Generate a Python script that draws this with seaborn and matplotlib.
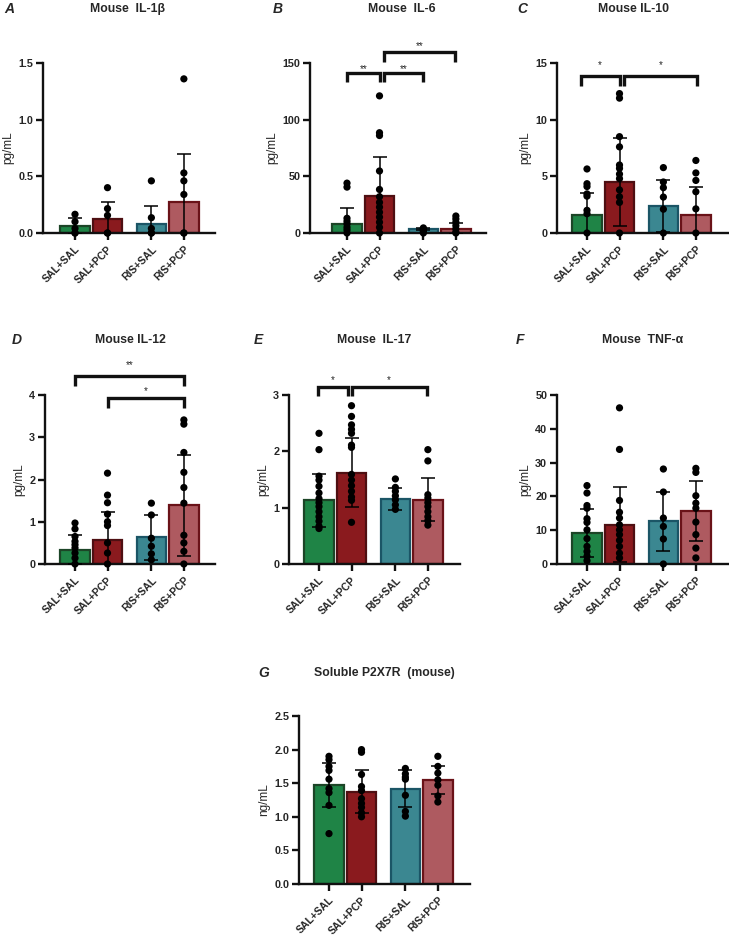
import numpy as np
import pandas as pd
import matplotlib
matplotlib.use("Agg")
import matplotlib.pyplot as plt
import seaborn as sns

sns.set_theme(style="ticks")
plt.rcParams['font.family'] = ['Liberation Sans', 'DejaVu Sans']

# ---------------- data ----------------
groups = ["SAL+SAL", "SAL+PCP", "RIS+SAL", "RIS+PCP"]
positions = [0.0, 1.0, 2.35, 3.35]
fill_colors = ["#1f8446", "#8a1a1e", "#3b8791", "#ae5a60"]
edge_colors = ["#1c4527", "#4e0f12", "#1b5566", "#6a1218"]

# A: IL-1beta
a_mean = [0.06, 0.12, 0.083, 0.27]
a_sd = [0.073, 0.157, 0.157, 0.424]
a_pts = [[0.165, 0.10, 0.04, 0, 0],
         [0.40, 0.215, 0.155, 0, 0],
         [0.46, 0.135, 0.04, 0, 0],
         [1.36, 0.53, 0.46, 0.34, 0, 0]]
a_yticks = [0.0, 0.5, 1.0, 1.5]
a_ticklabels = ["0.0", "0.5", "1.0", "1.5"]

# B: IL-6
b_mean = [8.0, 32.5, 3.5, 3.8]
b_sd = [13.9, 35.0, 0.6, 4.8]
b_pts = [[44, 40.5, 13, 10.4, 8, 5, 2.7, 0],
         [121, 88.5, 86, 54.7, 38.4, 32, 27, 22.8, 18.3, 14, 9.5, 5, 0],
         [4.5, 3.5, 2.0, 1.0, 0],
         [15, 12.4, 9.5, 6.5, 3.5, 0.6, 0]]
b_yticks = [0, 50, 100, 150]
b_ticklabels = ["0", "50", "100", "150"]
b_brackets = [(0.0, 1.0, 133, 141, 145, "**"),
              (1.15, 2.35, 133, 141, 145, "**"),
              (1.15, 3.32, 151, 160, 165, "**")]

# C: IL-10
c_mean = [1.6, 4.5, 2.4, 1.63]
c_sd = [1.92, 3.85, 2.3, 2.45]
c_pts = [[5.65, 4.35, 4.1, 3.45, 3.25, 2.0, 1.7, 0],
         [12.3, 11.9, 8.5, 7.6, 6.0, 5.7, 5.2, 4.8, 3.8, 3.2, 2.7, 0],
         [5.77, 4.5, 4.0, 3.17, 2.1, 0],
         [6.4, 5.3, 4.64, 3.64, 2.13, 0]]
c_yticks = [0, 5, 10, 15]
c_ticklabels = ["0", "5", "10", "15"]
c_brackets = [(-0.2, 1.0, 13.0, 13.88, 14.8, "*"),
              (1.15, 3.37, 13.0, 13.88, 14.8, "*")]

# D: IL-12
d_mean = [0.34, 0.56, 0.63, 1.39]
d_sd = [0.35, 0.68, 0.54, 1.2]
d_pts = [[0.97, 0.83, 0.65, 0.535, 0.457, 0.38, 0.26, 0.14, 0],
         [2.15, 1.63, 1.45, 1.18, 1.0, 0.91, 0.5, 0.26, 0],
         [1.44, 1.16, 0.61, 0.42, 0.24, 0.1],
         [3.41, 3.31, 2.64, 2.17, 1.81, 1.44, 0.68, 0.5, 0.3, 0]]
d_yticks = [0, 1, 2, 3, 4]
d_ticklabels = ["0", "1", "2", "3", "4"]
d_brackets = [(0.0, 3.35, 4.21, 4.45, 4.72, "**"),
              (1.0, 3.35, 3.69, 3.92, 4.1, "*")]

# E: IL-17
e_mean = [1.13, 1.62, 1.16, 1.14]
e_sd = [0.47, 0.61, 0.195, 0.38]
e_pts = [[2.32, 2.03, 1.56, 1.49, 1.38, 1.26, 1.16, 1.09, 1.02, 0.93, 0.84, 0.76, 0.67, 0.63],
         [2.81, 2.62, 2.47, 2.39, 2.32, 2.11, 2.07, 1.59, 1.49, 1.39, 1.29, 1.19, 1.13, 0.74],
         [1.51, 1.36, 1.29, 1.21, 1.14, 1.05, 0.97],
         [2.03, 1.83, 1.23, 1.17, 1.09, 1.02, 0.93, 0.84, 0.77, 0.69]]
e_yticks = [0, 1, 2, 3]
e_ticklabels = ["0", "1", "2", "3"]
e_brackets = [(-0.04, 0.88, 2.98, 3.15, 3.26, "*"),
              (1.0, 3.31, 2.98, 3.15, 3.26, "*")]

# F: TNF-alpha
f_mean = [9.05, 11.6, 12.6, 15.6]
f_sd = [7.1, 11.1, 8.8, 8.9]
f_pts = [[23.2, 21, 17.3, 16.5, 13.4, 12.3, 10.1, 7.5, 5.2, 3.7, 2.3, 1.0],
         [46.2, 33.9, 18.8, 15.3, 13.6, 11.6, 10.1, 8.7, 7.0, 5.2, 3.2, 1.8],
         [28.1, 21.3, 13.6, 11.1, 7.4, 0],
         [28.3, 27.1, 20.2, 18.0, 16.5, 12.4, 8.7, 4.7, 1.8]]
f_yticks = [0, 10, 20, 30, 40, 50]
f_ticklabels = ["0", "10", "20", "30", "40", "50"]

# G: soluble P2X7R
g_mean = [1.47, 1.37, 1.42, 1.55]
g_sd = [0.33, 0.32, 0.28, 0.21]
g_pts = [[1.90, 1.85, 1.75, 1.69, 1.56, 1.42, 1.36, 1.17, 0.75],
         [2.0, 1.96, 1.63, 1.45, 1.39, 1.27, 1.20, 1.14, 1.06, 1.0],
         [1.72, 1.64, 1.59, 1.56, 1.32, 1.08, 1.01],
         [1.90, 1.75, 1.65, 1.55, 1.47, 1.31, 1.22]]
g_yticks = [0.0, 0.5, 1.0, 1.5, 2.0, 2.5]
g_ticklabels = ["0.0", "0.5", "1.0", "1.5", "2.0", "2.5"]

# ---------------- layout (pixels) ----------------
W, H = 729, 940
fig = plt.figure(figsize=(W / 100, H / 100), dpi=100)
UNIT = 32.5  # px per x-unit


def make_axes(spine_x, right_x, top_y, zero_y, bar0_x):
    ax = fig.add_axes([spine_x / W, 1 - zero_y / H,
                       (right_x - spine_x) / W, (zero_y - top_y) / H])
    xlim = ((spine_x - bar0_x) / UNIT, (right_x - bar0_x) / UNIT)
    return ax, xlim


def panel(ax, xlim, means, sds, pts, yticks, yticklabels, ylabel, brackets=()):
    bar_df = pd.DataFrame({"pos": positions, "mean": means, "group": groups})
    sns.barplot(data=bar_df, x="pos", y="mean", hue="group", hue_order=groups,
                palette=fill_colors, native_scale=True, width=0.9,
                errorbar=None, legend=False, ax=ax, zorder=1)
    for p in ax.patches:
        cx = p.get_x() + p.get_width() / 2
        i = int(np.argmin([abs(cx - q) for q in positions]))
        p.set_facecolor(fill_colors[i])
        p.set_edgecolor(edge_colors[i])
        p.set_linewidth(1.6)
    ax.errorbar(positions, means, yerr=sds, fmt="none", ecolor="black",
                elinewidth=1.1, capsize=5.2, capthick=1.1, zorder=3)
    xs, ys = [], []
    for pos, vals in zip(positions, pts):
        xs += [pos] * len(vals)
        ys += list(vals)
    pt_df = pd.DataFrame({"x": xs, "y": ys})
    sns.scatterplot(data=pt_df, x="x", y="y", color="black", s=27,
                    edgecolor="none", ax=ax, zorder=4, clip_on=False, legend=False)
    ax.set_xlim(*xlim)
    ax.set_ylim(yticks[0], yticks[-1])
    ax.set_yticks(yticks)
    ax.set_yticklabels(yticklabels, fontsize=7.8, fontweight="bold")
    ax.set_xticks(positions)
    ax.set_xticklabels(groups, rotation=45, ha="right", rotation_mode="anchor",
                       fontsize=7.5, fontweight="bold")
    ax.set_xlabel("")
    ax.set_ylabel(ylabel, fontsize=8.5, labelpad=3)
    for s in ["top", "right"]:
        ax.spines[s].set_visible(False)
    for s in ["left", "bottom"]:
        ax.spines[s].set_linewidth(1.7)
        ax.spines[s].set_color("#111111")
    ax.tick_params(axis="both", direction="out", length=5, width=1.7,
                   color="#111111", pad=2)
    ax.tick_params(axis="x", pad=3)
    ax.patch.set_alpha(0)
    for x1, x2, yb, yt, ys_, txt in brackets:
        ax.plot([x1, x1, x2, x2], [yb, yt, yt, yb], color="#111111", lw=2.4,
                clip_on=False, solid_joinstyle="miter", solid_capstyle="butt")
        ax.text((x1 + x2) / 2, ys_, txt, ha="center", va="center",
                fontsize=7, clip_on=False)


def label(x, y, title, letter, letter_x):
    fig.text(x / W, 1 - y / H, title, ha="center", va="center",
             fontsize=8.8, fontweight="bold")
    fig.text(letter_x / W, 1 - y / H, letter, ha="left", va="center",
             fontsize=10, fontweight="bold", fontstyle="italic")


axA, xlA = make_axes(43, 215, 63, 233, 75)
panel(axA, xlA, a_mean, a_sd, a_pts, a_yticks, a_ticklabels, "pg/mL")
axB, xlB = make_axes(310, 486, 63, 233, 347)
panel(axB, xlB, b_mean, b_sd, b_pts, b_yticks, b_ticklabels, "pg/mL", b_brackets)
axC, xlC = make_axes(557, 728, 63, 233, 587)
panel(axC, xlC, c_mean, c_sd, c_pts, c_yticks, c_ticklabels, "pg/mL", c_brackets)
axD, xlD = make_axes(45, 215, 395, 564, 75)
panel(axD, xlD, d_mean, d_sd, d_pts, d_yticks, d_ticklabels, "pg/mL", d_brackets)
axE, xlE = make_axes(289, 460, 395, 564, 319)
panel(axE, xlE, e_mean, e_sd, e_pts, e_yticks, e_ticklabels, "pg/mL", e_brackets)
axF, xlF = make_axes(557, 728, 395, 564, 587)
panel(axF, xlF, f_mean, f_sd, f_pts, f_yticks, f_ticklabels, "pg/mL")
axG, xlG = make_axes(299, 470, 716, 884, 329)
panel(axG, xlG, g_mean, g_sd, g_pts, g_yticks, g_ticklabels, "ng/mL")

label(128, 9, "Mouse  IL-1\u03b2", "A", 4)
label(402, 9, "Mouse  IL-6", "B", 273)
label(634, 9, "Mouse IL-10", "C", 517)
label(130, 340, "Mouse IL-12", "D", 12)
label(374, 340, "Mouse  IL-17", "E", 254)
label(643, 340, "Mouse  TNF-\u03b1", "F", 516)
label(384, 673, "Soluble P2X7R  (mouse)", "G", 258)

fig.savefig("out.png", dpi=100)
